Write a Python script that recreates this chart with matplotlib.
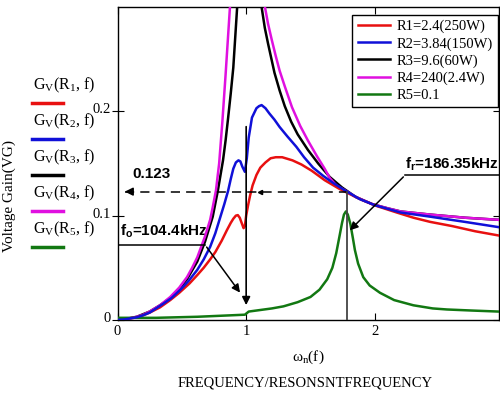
import matplotlib
matplotlib.use("Agg")
import matplotlib.pyplot as plt
from matplotlib.lines import Line2D
from matplotlib.transforms import ScaledTranslation

plt.rcParams['font.family'] = ['Liberation Serif', 'DejaVu Serif']
plt.rcParams['mathtext.fontset'] = 'custom'
plt.rcParams['mathtext.rm'] = 'Liberation Serif'
plt.rcParams['mathtext.it'] = 'Liberation Serif:italic'
plt.rcParams['mathtext.bf'] = 'Liberation Sans:bold'
plt.rcParams['mathtext.default'] = 'rm'

# values (normalised frequency, voltage gain)
x_r1 = [0, 0.05, 0.15, 0.2, 0.25, 0.33, 0.41, 0.48, 0.56, 0.62, 0.67, 0.72, 0.76, 0.81, 0.85,
        0.88, 0.90, 0.92, 0.935, 0.95, 0.965, 0.98, 0.99, 1.0, 1.015, 1.03, 1.05, 1.08, 1.11,
        1.15, 1.19, 1.23, 1.28, 1.36, 1.43, 1.51, 1.61, 1.72, 1.8, 1.9, 2.02, 2.17, 2.3, 2.43,
        2.6, 2.78, 2.96]
g_r1 = [0, 0.0004, 0.0025, 0.0045, 0.007, 0.012, 0.019, 0.026, 0.035, 0.043, 0.050, 0.058,
        0.065, 0.076, 0.086, 0.093, 0.097, 0.100, 0.1005, 0.098, 0.093, 0.088, 0.090, 0.100,
        0.110, 0.119, 0.129, 0.139, 0.146, 0.151, 0.155, 0.156, 0.156, 0.153, 0.149, 0.143,
        0.134, 0.126, 0.121, 0.115, 0.109, 0.103, 0.098, 0.094, 0.090, 0.085, 0.081]

x_r2 = [0, 0.05, 0.15, 0.2, 0.25, 0.3, 0.35, 0.42, 0.49, 0.55, 0.62, 0.67, 0.72, 0.76, 0.80,
        0.83, 0.86, 0.88, 0.90, 0.92, 0.94, 0.955, 0.97, 0.99, 1.005, 1.02, 1.045, 1.08, 1.10,
        1.12, 1.15, 1.18, 1.22, 1.26, 1.32, 1.39, 1.45, 1.52, 1.60, 1.68, 1.77, 1.88, 2.0, 2.2,
        2.43, 2.7, 2.96]
g_r2 = [0, 0.0004, 0.0025, 0.0045, 0.007, 0.011, 0.015, 0.021, 0.029, 0.037, 0.048, 0.058,
        0.070, 0.083, 0.099, 0.111, 0.124, 0.135, 0.145, 0.151, 0.153, 0.152, 0.147, 0.142,
        0.155, 0.175, 0.194, 0.203, 0.205, 0.206, 0.203, 0.198, 0.192, 0.185, 0.176, 0.166,
        0.156, 0.146, 0.138, 0.131, 0.124, 0.116, 0.110, 0.103, 0.099, 0.094, 0.089]

x_r3 = [0, 0.05, 0.15, 0.25, 0.33, 0.41, 0.48, 0.54, 0.62, 0.68, 0.74, 0.78, 0.82, 0.84, 0.86,
        0.88, 0.90, 0.93, 1.0, 1.08, 1.12, 1.145, 1.17, 1.22, 1.26, 1.30, 1.35, 1.40, 1.48,
        1.56, 1.65, 1.745, 1.85, 1.98, 2.1, 2.2, 2.43, 2.7, 2.96]
g_r3 = [0, 0.0005, 0.003, 0.008, 0.014, 0.021, 0.030, 0.039, 0.056, 0.075, 0.099, 0.124,
        0.153, 0.172, 0.194, 0.217, 0.242, 0.300, 0.600, 0.400, 0.300, 0.280, 0.265, 0.237,
        0.220, 0.205, 0.190, 0.178, 0.163, 0.150, 0.137, 0.127, 0.118, 0.111, 0.107, 0.104,
        0.101, 0.098, 0.096]

x_r4 = [0, 0.05, 0.15, 0.2, 0.25, 0.33, 0.41, 0.48, 0.54, 0.58, 0.62, 0.65, 0.68, 0.70, 0.72,
        0.74, 0.765, 0.79, 0.815, 0.84, 0.874, 0.92, 1.0, 1.1, 1.146, 1.17, 1.20, 1.23, 1.26,
        1.30, 1.356, 1.42, 1.48, 1.55, 1.61, 1.65, 1.70, 1.77, 1.85, 1.98, 2.1, 2.2, 2.43, 2.7,
        2.96]
g_r4 = [0, 0.0005, 0.003, 0.005, 0.008, 0.014, 0.022, 0.031, 0.041, 0.050, 0.060, 0.070,
        0.080, 0.088, 0.096, 0.108, 0.124, 0.150, 0.190, 0.235, 0.300, 0.400, 0.800, 0.400,
        0.300, 0.284, 0.268, 0.253, 0.239, 0.224, 0.204, 0.186, 0.172, 0.157, 0.145, 0.136,
        0.129, 0.124, 0.118, 0.111, 0.107, 0.104, 0.101, 0.098, 0.096]

x_r5 = [0, 0.3, 0.62, 0.9, 0.99, 1.0, 1.02, 1.08, 1.2, 1.29, 1.40, 1.50, 1.57, 1.63, 1.67, 1.70,
        1.725, 1.745, 1.76, 1.775, 1.79, 1.81, 1.83, 1.845, 1.87, 1.91, 1.96, 2.04, 2.15, 2.30,
        2.45, 2.56, 2.75, 2.96]
g_r5 = [0.002, 0.002, 0.003, 0.0045, 0.005, 0.006, 0.008, 0.009, 0.011, 0.013, 0.017, 0.022,
        0.029, 0.039, 0.050, 0.064, 0.080, 0.093, 0.101, 0.104, 0.101, 0.092, 0.078, 0.067,
        0.054, 0.041, 0.033, 0.026, 0.019, 0.014, 0.011, 0.010, 0.009, 0.008]

labels = ['R1=2.4(250W)', 'R2=3.84(150W)', 'R3=9.6(60W)', 'R4=240(2.4W)', 'R5=0.1']
trace_names = [r'G$_\mathrm{V}$(R$_1$, f)', r'G$_\mathrm{V}$(R$_2$, f)', r'G$_\mathrm{V}$(R$_3$, f)',
               r'G$_\mathrm{V}$(R$_4$, f)', r'G$_\mathrm{V}$(R$_5$, f)']
colors = ['#e81010', '#1010d8', '#000000', '#e010e0', '#127812']

f0_level = 0.123
f0_x = 1.0
fr_x = 1.785

fig = plt.figure(figsize=(5, 3.93), dpi=100)
ax = fig.add_axes([0.235, 0.186, 0.763, 0.796])

xs = [x_r1, x_r2, x_r3, x_r4, x_r5]
gs = [g_r1, g_r2, g_r3, g_r4, g_r5]
zord = [4, 5, 3, 3.5, 4]
for x, g, c, lab, z in zip(xs, gs, colors, labels, zord):
    ax.plot(x, g, color=c, lw=1.8, label=lab, zorder=z, solid_joinstyle='round')

ax.set_xlim(0, 2.965)
ax.set_ylim(0, 0.3)
ax.set_xticks([0, 1, 2])
ax.set_yticks([0, 0.1, 0.2])
ax.set_xticklabels(['0', '1', '2'])
ax.set_yticklabels(['0', '0.1', '0.2'])
ax.tick_params(axis='x', direction='in', length=5, top=True, labelsize=10.5, pad=4)
ax.tick_params(axis='y', direction='inout', length=8, right=True, labelsize=10.5, pad=1)
for lbl in ax.get_yticklabels():
    lbl.set_transform(lbl.get_transform() + ScaledTranslation(0, 0.03, fig.dpi_scale_trans))
for s in ax.spines.values():
    s.set_linewidth(1.0)

# 0.123 dashed line with arrow
ax.plot([0.06, fr_x], [f0_level, f0_level], color='black', lw=1.1, dashes=(6, 4), zorder=6)
ax.annotate('', xy=(0.035, f0_level), xytext=(0.12, f0_level),
            arrowprops=dict(arrowstyle='-|>', color='black', lw=1.1, mutation_scale=12), zorder=6)
ax.plot([1.11], [f0_level], marker='<', ms=3, color='black', zorder=6)
ax.text(0.113, 0.136, '0.123', fontsize=11, fontweight='bold', family='Liberation Sans')

# resonant frequency verticals
ax.plot([fr_x, fr_x], [0, f0_level], color='#444444', lw=1.3, zorder=6)
ax.annotate('', xy=(f0_x, 0.0115), xytext=(f0_x, 0.188),
            arrowprops=dict(arrowstyle='-|>', color='black', lw=1.2, mutation_scale=12), zorder=6)

# f0 label
ax.text(0.02, 0.081, r'f$_\mathbf{o}$=104.4kHz', fontsize=11, fontweight='bold', family='Liberation Sans')
ax.plot([0.0, 0.68], [0.072, 0.072], color='black', lw=1.1, zorder=6)
ax.annotate('', xy=(0.965, 0.024), xytext=(0.68, 0.072),
            arrowprops=dict(arrowstyle='-|>', color='black', lw=1.1, mutation_scale=12), zorder=6)

# fr label
ax.text(2.234, 0.145, r'f$_\mathbf{r}$=186.35kHz', fontsize=11, fontweight='bold', family='Liberation Sans')
ax.plot([2.237, 2.965], [0.139, 0.139], color='black', lw=1.1, zorder=6, clip_on=False)
ax.annotate('', xy=(1.79, 0.084), xytext=(2.237, 0.139),
            arrowprops=dict(arrowstyle='-|>', color='black', lw=1.1, mutation_scale=12), zorder=6)

leg = ax.legend(loc='upper right', bbox_to_anchor=(0.998, 0.975), borderaxespad=0,
                fontsize=10.5, handlelength=2.2, handletextpad=0.5, labelspacing=0.25,
                borderpad=0.35, fancybox=False, framealpha=1)
leg.get_frame().set_edgecolor('black')
leg.get_frame().set_linewidth(1.0)

# Mathcad-style trace labels on the left
for i, (name, c) in enumerate(zip(trace_names, colors)):
    ty = 85 + i * 36
    fig.text(33 / 500, 1 - ty / 393, name, fontsize=11.5, va='center', ha='left')
    ly = 1 - (ty + 18) / 393
    fig.add_artist(Line2D([32 / 500, 63 / 500], [ly, ly], color=c, lw=2.5))

fig.text(0.018, 0.5, 'Voltage Gain(VG)', rotation=90, va='center', ha='center', fontsize=11)
fig.text(0.617, 1 - 357 / 393, r'ω$_\mathrm{n}$(f)', fontsize=11, ha='center', va='center')
fig.text(0.61, 1 - 383 / 393, 'FREQUENCY/RESONSNTFREQUENCY', fontsize=10.5, ha='center', va='center')

fig.savefig('out.png', dpi=100)
